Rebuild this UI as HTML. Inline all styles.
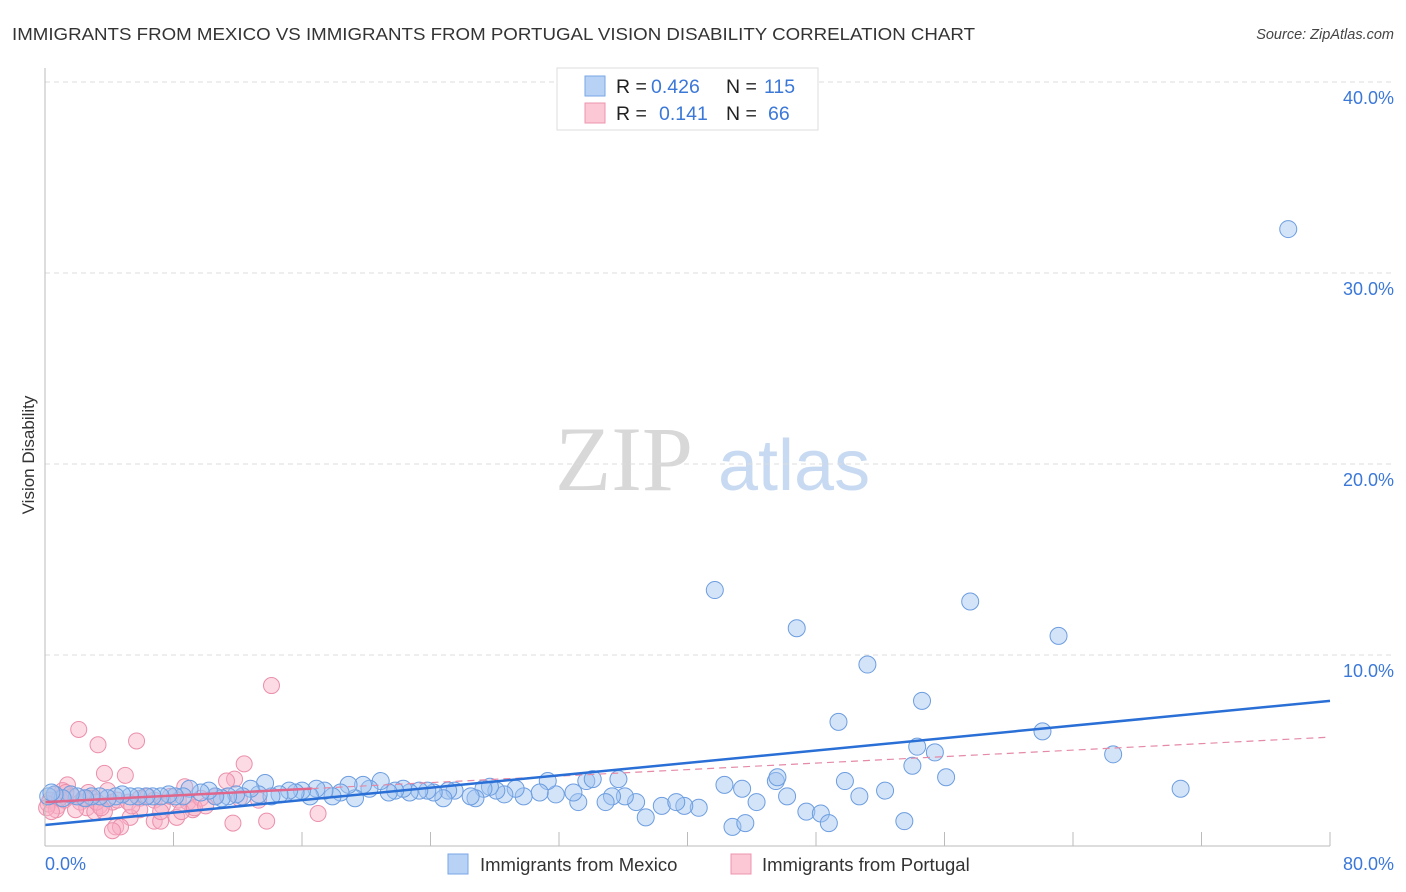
<!DOCTYPE html>
<html><head><meta charset="utf-8"><style>
body{margin:0;background:#fff;font-family:"Liberation Sans",sans-serif}
svg{display:block}
</style></head><body>
<svg id="c" width="1406" height="892" xmlns="http://www.w3.org/2000/svg">
<text x="12" y="40" font-size="17.5" fill="#333" textLength="963" lengthAdjust="spacingAndGlyphs">IMMIGRANTS FROM MEXICO VS IMMIGRANTS FROM PORTUGAL VISION DISABILITY CORRELATION CHART</text>
<text x="1394" y="39" font-size="14.5" fill="#444" font-style="italic" text-anchor="end">Source: ZipAtlas.com</text>
<text x="555" y="490" font-size="92" fill="#d8d8d8" font-family="Liberation Serif,serif">ZIP</text>
<text x="718" y="490" font-size="72" fill="#c8daf2">atlas</text>
<text transform="translate(34,455) rotate(-90)" font-size="17" fill="#333" text-anchor="middle">Vision Disability</text>
<g id="grid"></g><g id="pts"></g><g id="trend"></g>
<line x1="45" y1="68" x2="45" y2="846" stroke="#bbb"/>
<line x1="45" y1="846" x2="1330" y2="846" stroke="#bbb"/>
<text x="45" y="870" font-size="18" fill="#3b78d8">0.0%</text>
<text x="1394" y="870" font-size="18" fill="#3b78d8" text-anchor="end">80.0%</text>
<g>
<rect x="557" y="68" width="261" height="62" fill="#fff" stroke="#ddd"/>
<rect x="585" y="76" width="20" height="20" fill="#b8d2f5" stroke="#7aa6e6"/>
<rect x="585" y="103" width="20" height="20" fill="#fcc8d6" stroke="#ec94ae"/>
<g font-size="19.5">
<text x="616" y="93" fill="#222">R =</text><text x="651" y="93" fill="#3b78d8">0.426</text><text x="726" y="93" fill="#222">N =</text><text x="764" y="93" fill="#3b78d8">115</text>
<text x="616" y="120" fill="#222">R =</text><text x="659" y="120" fill="#3b78d8">0.141</text><text x="726" y="120" fill="#222">N =</text><text x="768" y="120" fill="#3b78d8">66</text>
</g>
</g>
<g>
<rect x="448" y="854" width="20" height="20" fill="#b8d2f5" stroke="#7aa6e6"/>
<text x="480" y="871" font-size="18.5" fill="#333">Immigrants from Mexico</text>
<rect x="731" y="854" width="20" height="20" fill="#fcc8d6" stroke="#ec94ae"/>
<text x="762" y="871" font-size="18.5" fill="#333">Immigrants from Portugal</text>
</g>
</svg>
<script>
const yTicks=[10,20,30,40];
const yTickLabels=["10.0%","20.0%","30.0%","40.0%"];
const xTicks=[8,16,24,32,40,48,56,64,72,80];
const mexicoX=[77.4,41.7,57.6,46.8,63.1,51.2,54.6,49.4,62.1,54.3,55.4,66.5,54.0,56.1,70.7,49.8,45.5,45.6,42.3,43.4,50.7,52.3,46.2,44.3,47.4,48.3,48.8,53.5,42.8,43.6,37.4,40.7,39.8,38.4,39.3,36.8,36.1,35.3,34.9,35.7,33.7,34.1,33.2,32.9,31.8,31.3,30.8,29.8,29.3,28.6,28.1,27.7,27.3,26.8,26.5,25.5,25.1,24.8,24.2,23.8,23.3,22.7,22.3,21.8,21.4,20.9,20.2,19.8,19.3,18.9,18.4,17.9,17.4,16.9,16.5,16.0,15.6,15.2,14.6,14.1,13.7,13.3,12.8,12.3,11.9,11.4,11.0,10.6,10.2,9.7,9.0,8.6,8.1,7.7,7.2,6.7,6.3,5.8,5.3,4.8,4.4,3.9,3.4,2.9,2.5,2.0,1.6,1.1,0.6,0.2,0.4];
const mexicoY=[32.3,13.4,12.8,11.4,11.0,9.5,7.6,6.5,6.0,5.2,4.9,4.8,4.2,3.6,3.0,3.4,3.4,3.6,3.2,3.0,2.6,2.9,2.6,2.3,1.8,1.7,1.2,1.3,1.0,1.2,1.5,2.0,2.1,2.1,2.3,2.3,2.6,2.6,2.3,3.5,3.4,3.5,2.3,2.8,2.7,3.4,2.8,2.6,3.0,2.7,2.9,3.1,3.0,2.5,2.6,2.9,2.9,2.5,2.8,2.9,2.9,2.8,3.0,2.9,2.8,3.4,3.0,3.2,2.5,3.2,2.8,2.6,2.9,3.0,2.6,2.9,2.8,2.9,2.7,2.6,3.3,2.7,3.0,2.6,2.7,2.6,2.5,2.6,2.9,2.8,3.0,2.6,2.6,2.7,2.6,2.6,2.6,2.6,2.6,2.7,2.6,2.5,2.6,2.6,2.5,2.6,2.7,2.5,2.7,2.6,2.8];
const portugalX=[14.1,2.1,3.3,5.7,12.4,3.7,5.0,11.8,11.3,1.4,2.7,8.7,3.9,1.1,0.6,0.3,0.2,0.8,1.2,1.7,2.2,2.6,2.9,3.4,4.2,4.5,5.2,5.9,6.4,6.8,7.3,7.8,8.3,8.9,9.2,9.7,10.6,5.9,5.3,4.4,4.7,4.2,6.8,7.2,8.2,11.7,13.8,17.0,0.7,1.9,3.1,3.7,0.9,1.3,0.1,0.4,2.4,3.2,3.5,5.4,7.2,8.5,9.3,10.0,12.1,13.3];
const portugalY=[8.4,6.1,5.3,5.5,4.3,3.8,3.7,3.5,3.4,3.2,2.8,3.1,2.9,2.9,2.7,2.4,2.2,2.1,2.4,2.6,2.3,2.0,2.5,2.1,2.3,2.4,2.3,2.5,2.6,2.4,2.1,2.6,2.4,2.3,1.9,2.5,2.6,1.9,1.5,1.0,1.0,0.8,1.3,1.3,1.5,1.2,1.3,1.7,1.9,1.9,1.8,1.8,2.5,2.8,2.0,1.8,2.5,2.3,2.0,2.1,1.8,1.8,2.0,2.1,2.5,2.4];
const mexicoTrend=[1.1,7.6];
const portugalTrend=[2.3,5.7];
const portugalSolidEnd=16.6;
const X=v=>45+v/80*1285, Y=v=>846-v*19.1;
const NS="http://www.w3.org/2000/svg";
function mk(t,a,p){const e=document.createElementNS(NS,t);for(const k in a)e.setAttribute(k,a[k]);p.appendChild(e);return e;}
const grid=document.getElementById('grid');
yTicks.forEach((v,i)=>{
const l=mk('line',{x1:45,x2:1394,y1:Y(v),y2:Y(v),stroke:'#ddd','stroke-dasharray':'5,4'},grid);


const t=mk('text',{x:1394,y:Y(v)+22,'font-size':18,fill:'#3b78d8','text-anchor':'end'},grid);
t.textContent=yTickLabels[i];


});
xTicks.forEach(v=>{
const l=mk('line',{x1:X(v),x2:X(v),y1:832,y2:846,stroke:'#bbb'},grid);


});
const pts=document.getElementById('pts');
portugalX.forEach((v,i)=>{
const c=mk('circle',{cx:X(v),cy:Y(portugalY[i]),r:8,fill:'rgba(248,176,198,0.45)',stroke:'#eb8fab','stroke-width':1},pts);


});
mexicoX.forEach((v,i)=>{
const c=mk('circle',{cx:X(v),cy:Y(mexicoY[i]),r:8.5,fill:'rgba(160,196,240,0.45)',stroke:'#6c9de0','stroke-width':1},pts);


});
const tr=document.getElementById('trend');
const pAt=x=>portugalTrend[0]+(portugalTrend[1]-portugalTrend[0])*x/80;
let l1=mk('line',{x1:X(0),y1:Y(pAt(0)),x2:X(portugalSolidEnd),y2:Y(pAt(portugalSolidEnd)),stroke:'#e0668c','stroke-width':2.5},tr);


let l2=mk('line',{x1:X(portugalSolidEnd),y1:Y(pAt(portugalSolidEnd)),x2:X(80),y2:Y(pAt(80)),stroke:'#e58aa6','stroke-width':1.2,'stroke-dasharray':'7,5'},tr);


let l3=mk('line',{x1:X(0),y1:Y(mexicoTrend[0]),x2:X(80),y2:Y(mexicoTrend[1]),stroke:'#2a6fd6','stroke-width':2.5},tr);


</script>
</body></html>
